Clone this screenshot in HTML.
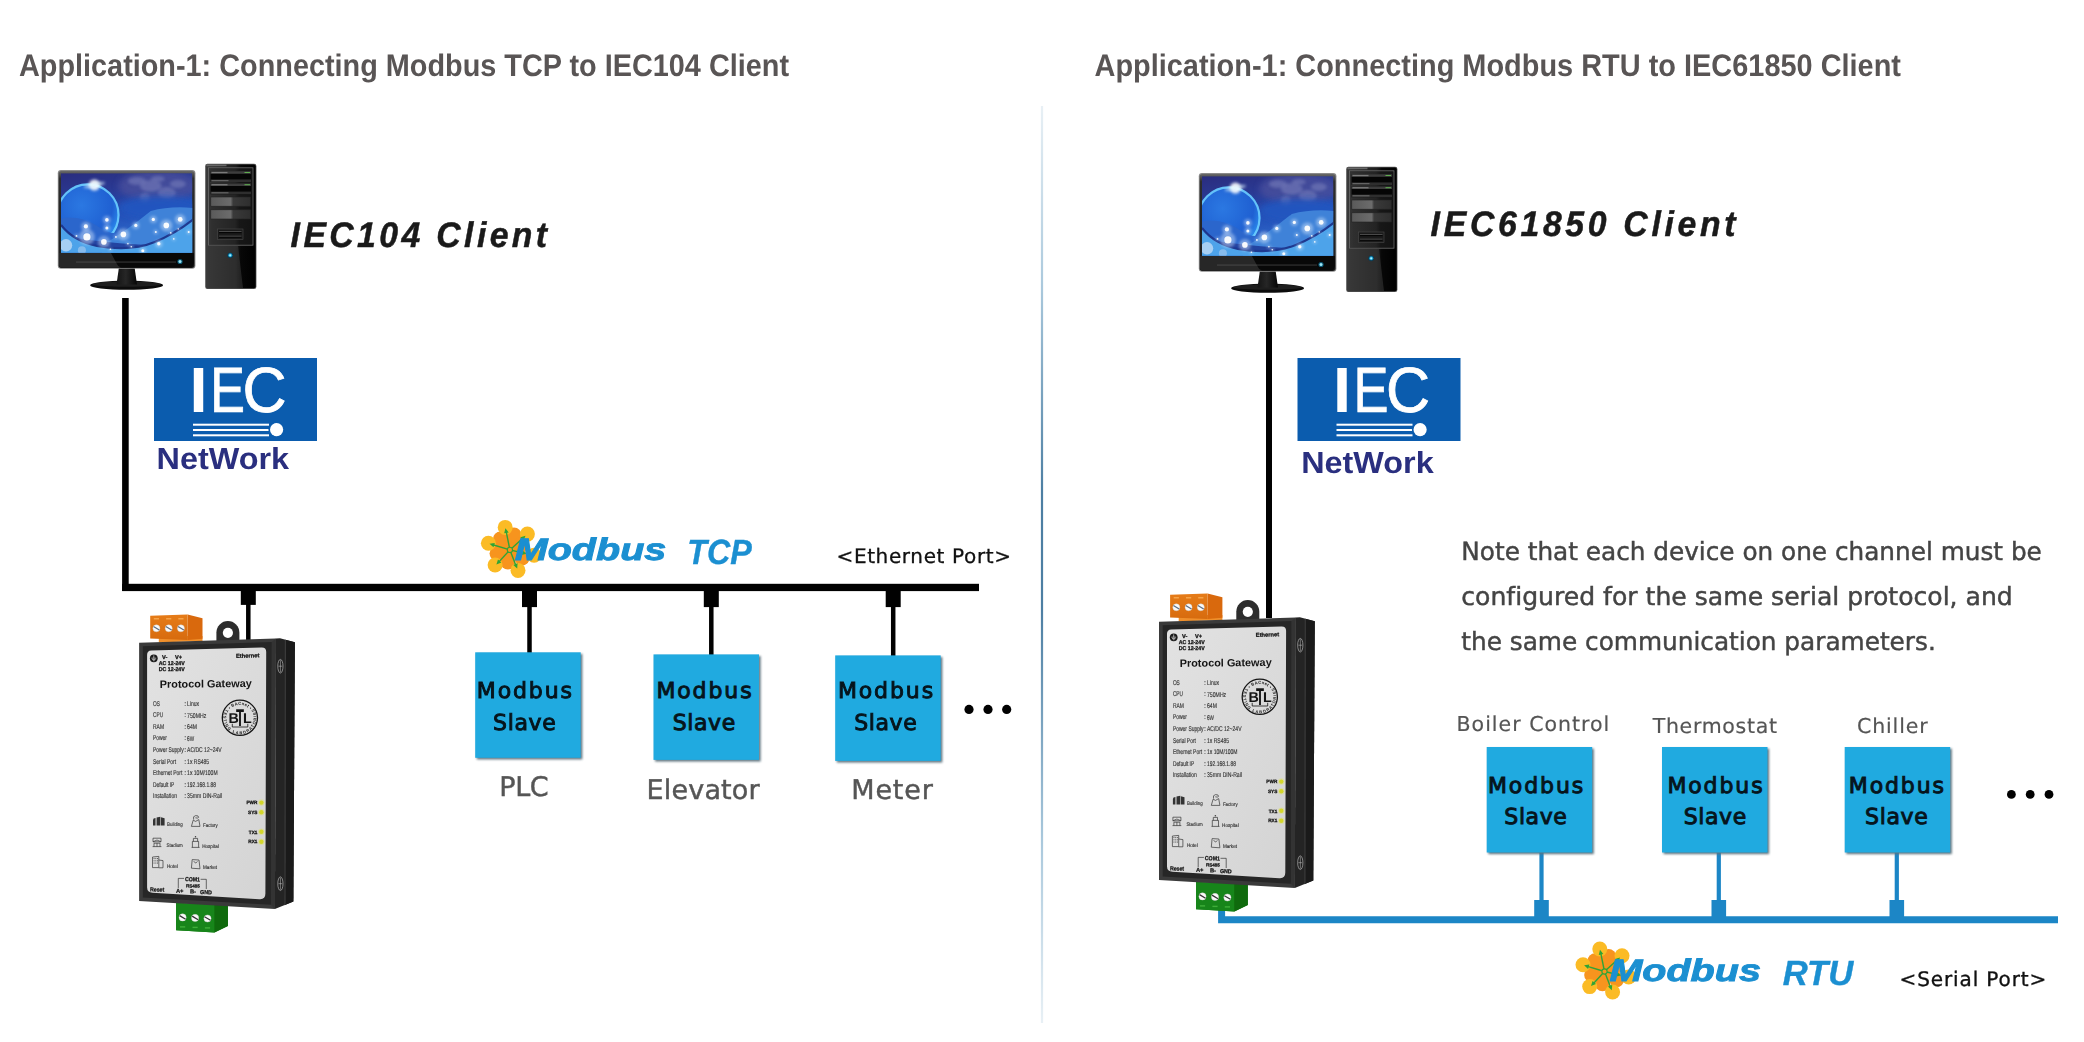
<!DOCTYPE html>
<html lang="en">
<head>
<meta charset="utf-8">
<title>Protocol Gateway Applications</title>
<style>
html,body{margin:0;padding:0;background:#fff;}
body{width:2084px;height:1042px;overflow:hidden;font-family:"Liberation Sans",sans-serif;}
svg{display:block;}
text{white-space:pre;font-variant-ligatures:none;font-kerning:normal;}
</style>
</head>
<body>
<svg width="2084" height="1042" viewBox="0 0 2084 1042" text-rendering="geometricPrecision"><defs>
<linearGradient id="divg" x1="0" y1="0" x2="0" y2="1">
<stop offset="0" stop-color="#e8f0f5"/><stop offset="0.2" stop-color="#a9c8dc"/><stop offset="0.42" stop-color="#4d7fa3"/><stop offset="0.55" stop-color="#4d7fa3"/><stop offset="0.8" stop-color="#a9c8dc"/><stop offset="1" stop-color="#e8f0f5"/>
</linearGradient>
<filter id="blur1" x="-10%" y="-10%" width="120%" height="120%"><feGaussianBlur stdDeviation="0.9"/></filter>
<filter id="blur2" x="-50%" y="-50%" width="200%" height="200%"><feGaussianBlur stdDeviation="1.6"/></filter>
<filter id="blur3" x="-50%" y="-50%" width="200%" height="200%"><feGaussianBlur stdDeviation="3"/></filter>
<filter id="blur05" x="-20%" y="-20%" width="140%" height="140%"><feGaussianBlur stdDeviation="0.45"/></filter>
<linearGradient id="scrg" x1="0" y1="0" x2="0.3" y2="1">
<stop offset="0" stop-color="#2a2d7e"/><stop offset="0.3" stop-color="#2a3a94"/><stop offset="0.6" stop-color="#2450b8"/><stop offset="1" stop-color="#2f70d0"/>
</linearGradient>
<radialGradient id="globe" cx="0.4" cy="0.35" r="0.7">
<stop offset="0" stop-color="#2b78e2"/><stop offset="0.7" stop-color="#1f60d2"/><stop offset="0.9" stop-color="#2a86ea"/><stop offset="1" stop-color="#58c4ff"/>
</radialGradient>
<linearGradient id="bezg" x1="0" y1="0" x2="0" y2="1">
<stop offset="0" stop-color="#6a6a6a"/><stop offset="0.08" stop-color="#2e2e2e"/><stop offset="1" stop-color="#1c1c1c"/>
</linearGradient>
<linearGradient id="towg" x1="0" y1="0" x2="1" y2="0">
<stop offset="0" stop-color="#3c3c3c"/><stop offset="0.08" stop-color="#333"/><stop offset="0.6" stop-color="#1e1e1e"/><stop offset="0.7" stop-color="#070707"/><stop offset="1" stop-color="#000"/>
</linearGradient>
<linearGradient id="bayg" x1="0" y1="0" x2="1" y2="0">
<stop offset="0" stop-color="#5a5a5a"/><stop offset="0.5" stop-color="#6c6c6c"/><stop offset="0.56" stop-color="#3a3a3a"/><stop offset="1" stop-color="#2e2e2e"/>
</linearGradient>
<linearGradient id="neckg" x1="0" y1="0" x2="1" y2="0">
<stop offset="0" stop-color="#141414"/><stop offset="0.45" stop-color="#262626"/><stop offset="1" stop-color="#060606"/>
</linearGradient>
<linearGradient id="orgf" x1="0" y1="0" x2="0" y2="1">
<stop offset="0" stop-color="#e67c18"/><stop offset="1" stop-color="#d76b0e"/>
</linearGradient>
<linearGradient id="lblg" x1="0" y1="0" x2="1" y2="1">
<stop offset="0" stop-color="#e2e2e2"/><stop offset="1" stop-color="#d4d4d4"/>
</linearGradient>
</defs><g opacity="0.999"><text x="19" y="75.6" font-family='"Liberation Sans", sans-serif' font-size="31.2" fill="#595555" font-weight="bold" textLength="770" lengthAdjust="spacingAndGlyphs">Application-1: Connecting Modbus TCP to IEC104 Client</text>
<text x="1094.5" y="75.6" font-family='"Liberation Sans", sans-serif' font-size="31.2" fill="#595555" font-weight="bold" textLength="806.5" lengthAdjust="spacingAndGlyphs">Application-1: Connecting Modbus RTU to IEC61850 Client</text>
<rect x="1040.9" y="106" width="2.2" height="917" fill="url(#divg)"/>
<rect x="122.1" y="298" width="6.6" height="293" fill="#000"/>
<rect x="122.1" y="583.8" width="856.9" height="7.3" fill="#000"/>
<rect x="240.8" y="590" width="15" height="14.9" fill="#000"/><rect x="246.05" y="590" width="4.5" height="50" fill="#000"/>
<rect x="522.0" y="590" width="15" height="17.1" fill="#000"/><rect x="527.25" y="590" width="4.5" height="64" fill="#000"/>
<rect x="703.8" y="590" width="15" height="17.1" fill="#000"/><rect x="709.05" y="590" width="4.5" height="66" fill="#000"/>
<rect x="885.7" y="590" width="15" height="17.1" fill="#000"/><rect x="890.95" y="590" width="4.5" height="67" fill="#000"/>
<g transform="translate(0 0)"><ellipse cx="126.6" cy="285.2" rx="36.5" ry="4.6" fill="#0c0c0c"/><ellipse cx="126.6" cy="284.2" rx="34" ry="2.6" fill="#2b2b2b" opacity="0.6"/><path d="M119 267 L134.5 267 L137 284.5 L116.5 284.5 Z" fill="url(#neckg)"/><rect x="57.8" y="170" width="137.6" height="98.8" rx="3.2" fill="#8a8a8a"/><rect x="58.7" y="170.9" width="135.8" height="97" rx="2.6" fill="url(#bezg)"/><clipPath id="scrc0"><rect x="61" y="173.2" width="131.3" height="79.6"/></clipPath><g clip-path="url(#scrc0)"><rect x="61" y="173.2" width="131.3" height="79.6" fill="url(#scrg)"/><ellipse cx="158" cy="186" rx="40" ry="16" fill="#4a4f9c" opacity="0.8" filter="url(#blur3)"/><ellipse cx="136.8" cy="181.0" rx="9" ry="4" fill="#8086c0" opacity="0.5" filter="url(#blur2)"/><ellipse cx="150.8" cy="186.0" rx="11" ry="6" fill="#8086c0" opacity="0.5" filter="url(#blur2)"/><ellipse cx="166.8" cy="193.0" rx="9" ry="6" fill="#8086c0" opacity="0.5" filter="url(#blur2)"/><ellipse cx="177.8" cy="184.0" rx="8" ry="4" fill="#8086c0" opacity="0.5" filter="url(#blur2)"/><ellipse cx="144.8" cy="197.9" rx="5" ry="5" fill="#8086c0" opacity="0.5" filter="url(#blur2)"/><ellipse cx="157.8" cy="179.0" rx="7" ry="3" fill="#8086c0" opacity="0.5" filter="url(#blur2)"/><ellipse cx="160" cy="208" rx="42" ry="12" fill="#2456c0" opacity="0.9" filter="url(#blur3)"/><circle cx="87.9" cy="214.9" r="31.5" fill="url(#globe)"/><circle cx="87.9" cy="214.9" r="30.6" fill="none" stroke="#6fd2ff" stroke-width="2.2" opacity="0.85" filter="url(#blur05)"/><circle cx="94.4" cy="185.0" r="5.5" fill="#fff" opacity="0.9" filter="url(#blur2)"/><ellipse cx="94.4" cy="185.0" rx="11" ry="2" fill="#dff6ff" opacity="0.7" filter="url(#blur2)" transform="rotate(-12 94.4 185.0)"/><path d="M61.0 218.4 Q80.0 214.9 98.9 226.9 T120.9 226.9 L120.9 253.8 L61.0 253.8 Z" fill="#2b66cc"/><path d="M101.9 245.3 Q124.9 231.9 150.8 210.9 Q169.8 205.9 192.7 207.9 L192.7 253.8 L101.9 253.8 Z" fill="#3f82d8"/><path d="M61.0 224.9 Q73.0 240.9 96.9 245.8 Q130.8 251.8 154.8 241.9 Q174.8 233.9 192.7 219.9 L192.7 253.8 L61.0 253.8 Z" fill="#4da3ea"/><path d="M61.0 224.9 Q73.0 240.9 96.9 245.8 Q130.8 251.8 154.8 241.9 Q174.8 233.9 192.7 219.9" fill="none" stroke="#1b2f86" stroke-width="2.2" opacity="0.9"/><path d="M75.0 237.9 Q87.9 245.3 106.9 246.8 Q124.9 249.0 144.8 244.8 Q118.9 243.8 75.0 237.9 Z" fill="#1f3a98" opacity="0.85"/><circle cx="106.9" cy="219.9" r="3.8" fill="#dcecff" opacity="0.45" filter="url(#blur2)"/><circle cx="106.9" cy="219.9" r="1.8" fill="#fff" opacity="0.95" filter="url(#blur05)"/><circle cx="85.9" cy="226.4" r="4.5" fill="#dcecff" opacity="0.45" filter="url(#blur2)"/><circle cx="85.9" cy="226.4" r="2.1" fill="#fff" opacity="0.95" filter="url(#blur05)"/><circle cx="86.9" cy="236.9" r="7.8" fill="#dcecff" opacity="0.45" filter="url(#blur2)"/><circle cx="86.9" cy="236.9" r="3.6" fill="#fff" opacity="0.95" filter="url(#blur05)"/><circle cx="103.9" cy="241.9" r="6.0" fill="#dcecff" opacity="0.45" filter="url(#blur2)"/><circle cx="103.9" cy="241.9" r="2.8" fill="#fff" opacity="0.95" filter="url(#blur05)"/><circle cx="123.4" cy="234.4" r="6.0" fill="#dcecff" opacity="0.45" filter="url(#blur2)"/><circle cx="123.4" cy="234.4" r="2.8" fill="#fff" opacity="0.95" filter="url(#blur05)"/><circle cx="135.8" cy="225.4" r="3.4" fill="#dcecff" opacity="0.45" filter="url(#blur2)"/><circle cx="135.8" cy="225.4" r="1.6" fill="#fff" opacity="0.95" filter="url(#blur05)"/><circle cx="153.3" cy="219.4" r="3.4" fill="#dcecff" opacity="0.45" filter="url(#blur2)"/><circle cx="153.3" cy="219.4" r="1.6" fill="#fff" opacity="0.95" filter="url(#blur05)"/><circle cx="166.3" cy="225.4" r="6.0" fill="#dcecff" opacity="0.45" filter="url(#blur2)"/><circle cx="166.3" cy="225.4" r="2.8" fill="#fff" opacity="0.95" filter="url(#blur05)"/><circle cx="180.2" cy="219.4" r="5.2" fill="#dcecff" opacity="0.45" filter="url(#blur2)"/><circle cx="180.2" cy="219.4" r="2.4" fill="#fff" opacity="0.95" filter="url(#blur05)"/><circle cx="155.8" cy="231.9" r="2.2" fill="#dcecff" opacity="0.45" filter="url(#blur2)"/><circle cx="155.8" cy="231.9" r="1.0" fill="#fff" opacity="0.95" filter="url(#blur05)"/><circle cx="170.8" cy="232.9" r="1.8" fill="#dcecff" opacity="0.45" filter="url(#blur2)"/><circle cx="170.8" cy="232.9" r="0.8" fill="#fff" opacity="0.95" filter="url(#blur05)"/><circle cx="178.3" cy="228.9" r="1.5" fill="#dcecff" opacity="0.45" filter="url(#blur2)"/><circle cx="178.3" cy="228.9" r="0.7" fill="#fff" opacity="0.95" filter="url(#blur05)"/><circle cx="188.7" cy="231.9" r="2.2" fill="#dcecff" opacity="0.45" filter="url(#blur2)"/><circle cx="188.7" cy="231.9" r="1.0" fill="#fff" opacity="0.95" filter="url(#blur05)"/><circle cx="173.8" cy="238.9" r="1.8" fill="#dcecff" opacity="0.45" filter="url(#blur2)"/><circle cx="173.8" cy="238.9" r="0.8" fill="#fff" opacity="0.95" filter="url(#blur05)"/><circle cx="158.8" cy="243.8" r="3.6" fill="#dcecff" opacity="0.45" filter="url(#blur2)"/><circle cx="158.8" cy="243.8" r="1.7" fill="#fff" opacity="0.95" filter="url(#blur05)"/><circle cx="127.9" cy="243.8" r="1.8" fill="#dcecff" opacity="0.45" filter="url(#blur2)"/><circle cx="127.9" cy="243.8" r="0.8" fill="#fff" opacity="0.95" filter="url(#blur05)"/><circle cx="131.3" cy="246.8" r="1.8" fill="#dcecff" opacity="0.45" filter="url(#blur2)"/><circle cx="131.3" cy="246.8" r="0.8" fill="#fff" opacity="0.95" filter="url(#blur05)"/><circle cx="110.4" cy="249.3" r="1.8" fill="#dcecff" opacity="0.45" filter="url(#blur2)"/><circle cx="110.4" cy="249.3" r="0.8" fill="#fff" opacity="0.95" filter="url(#blur05)"/><circle cx="76.5" cy="235.9" r="2.0" fill="#dcecff" opacity="0.45" filter="url(#blur2)"/><circle cx="76.5" cy="235.9" r="0.9" fill="#fff" opacity="0.95" filter="url(#blur05)"/><circle cx="115.9" cy="236.9" r="2.0" fill="#dcecff" opacity="0.45" filter="url(#blur2)"/><circle cx="115.9" cy="236.9" r="0.9" fill="#fff" opacity="0.95" filter="url(#blur05)"/><circle cx="106.9" cy="227.9" r="3.3" fill="#dcecff" opacity="0.45" filter="url(#blur2)"/><circle cx="106.9" cy="227.9" r="1.5" fill="#fff" opacity="0.95" filter="url(#blur05)"/><circle cx="142.8" cy="250.8" r="3.3" fill="#dcecff" opacity="0.45" filter="url(#blur2)"/><circle cx="142.8" cy="250.8" r="1.5" fill="#fff" opacity="0.95" filter="url(#blur05)"/><circle cx="66.0" cy="245.3" r="6.2" fill="#e4ecf8" opacity="0.6"/><circle cx="81.9" cy="250.3" r="4" fill="#cfdcf2" opacity="0.45"/></g><path d="M59 253 H111 L117 264 Q118 267 121 267.6 H61 Q59 267 59 265 Z" fill="#272727"/><path d="M111 253 H194 V262 Q194 267.6 190 267.6 H121 Q118 267 117 264 Z" fill="#080808"/><rect x="76" y="261.6" width="100" height="0.9" fill="#666" opacity="0.6"/><circle cx="180" cy="261.5" r="2.6" fill="#0b5a78"/><circle cx="180" cy="261.5" r="1.5" fill="#9fe6f5"/><rect x="205.2" y="163.8" width="51.2" height="125.2" rx="2.2" fill="#555"/><rect x="205.9" y="164.5" width="49.8" height="123.8" rx="1.8" fill="url(#towg)"/><rect x="206.5" y="164.6" width="20" height="1.6" fill="#777" opacity="0.8"/><rect x="208.4" y="167.8" width="44.6" height="77.4" fill="#2a2a2a" stroke="#6c6c6c" stroke-width="0.8"/><rect x="209" y="168.4" width="43.4" height="76.2" fill="url(#towg)" opacity="0.55"/><rect x="210.5" y="171.2" width="40.5" height="10.8" fill="#050505"/><rect x="210.5" y="171.2" width="40.5" height="2.6" fill="#3d3d3d"/><rect x="211.5" y="171.89999999999998" width="16" height="1.3" fill="#8a8a8a" opacity="0.8"/><rect x="244.5" y="172.0" width="5.5" height="1" fill="#5fae4f"/><rect x="210.5" y="179.39999999999998" width="40.5" height="2.6" fill="#2e2e2e"/><rect x="211.5" y="180.0" width="17" height="1.2" fill="#7a7a7a" opacity="0.7"/><rect x="210.5" y="183.4" width="40.5" height="10.8" fill="#050505"/><rect x="210.5" y="183.4" width="40.5" height="2.6" fill="#3d3d3d"/><rect x="211.5" y="184.1" width="16" height="1.3" fill="#8a8a8a" opacity="0.8"/><rect x="244.5" y="184.20000000000002" width="5.5" height="1" fill="#5fae4f"/><rect x="210.5" y="191.6" width="40.5" height="2.6" fill="#2e2e2e"/><rect x="211.5" y="192.20000000000002" width="17" height="1.2" fill="#7a7a7a" opacity="0.7"/><rect x="210.8" y="197" width="39.8" height="9.2" fill="url(#bayg)" stroke="#222" stroke-width="0.6"/><rect x="210.8" y="209.8" width="39.8" height="9.2" fill="url(#bayg)" stroke="#222" stroke-width="0.6"/><rect x="217.5" y="229" width="25.5" height="10.6" fill="#1a1a1a" stroke="#4a4a4a" stroke-width="0.6"/><rect x="219" y="231.4" width="22.5" height="1.7" fill="#050505"/><rect x="219" y="231.2" width="22.5" height="0.7" fill="#8a8a8a" opacity="0.7"/><rect x="219" y="236" width="22.5" height="1.7" fill="#050505"/><rect x="219" y="235.8" width="22.5" height="0.7" fill="#8a8a8a" opacity="0.7"/><path d="M206 245.6 H238 L243 288.3 H206 Z" fill="#3a3a3a" opacity="0.55"/><circle cx="230.2" cy="255.3" r="2.9" fill="#0c3b52"/><circle cx="230.2" cy="255.3" r="2" fill="#1aa0d0"/><circle cx="230.2" cy="255.3" r="1.1" fill="#aef0ff"/></g>
<text transform="translate(290.6 246.6) scale(0.95 1)" x="0" y="0" font-family='"Liberation Sans", sans-serif' font-size="35.5" fill="#1a1a1a" font-weight="bold" font-style="italic" textLength="270.0" lengthAdjust="spacing" stroke="#1a1a1a" stroke-width="0.5">IEC104 Client</text>
<g transform="translate(154 358)"><rect x="0" y="0" width="163" height="83" fill="#0b5cae"/><text y="53.9" font-family='"Liberation Sans", sans-serif' font-size="64" fill="#fff"><tspan x="35.4" font-weight="bold" textLength="18" lengthAdjust="spacingAndGlyphs">I</tspan><tspan x="56" textLength="35" lengthAdjust="spacingAndGlyphs" stroke="#fff" stroke-width="0.7">E</tspan><tspan x="88.5" textLength="44" lengthAdjust="spacingAndGlyphs" stroke="#fff" stroke-width="0.8">C</tspan></text><rect x="39" y="65.7" width="76" height="2" fill="#fff"/><rect x="39" y="71.0" width="76" height="2" fill="#fff"/><rect x="39" y="76.3" width="76" height="2" fill="#fff"/><circle cx="122.6" cy="71.7" r="8.2" fill="#0b5cae"/><circle cx="122.6" cy="71.7" r="6.6" fill="#fff"/></g>
<text x="156.6" y="469.2" font-family='"Liberation Sans", sans-serif' font-size="30.5" fill="#2a2f7f" font-weight="bold" textLength="132.5" lengthAdjust="spacingAndGlyphs">NetWork</text>
<g transform="translate(0 0)"><circle cx="509.9" cy="549.3" r="11" fill="#f7941e"/><circle cx="514.0" cy="535.1" r="7.6" fill="#f7941e"/><circle cx="500.5" cy="539.2" r="7.6" fill="#f7941e"/><circle cx="497.2" cy="553.3" r="7.6" fill="#f7941e"/><circle cx="507.9" cy="562.0" r="7.6" fill="#f7941e"/><circle cx="522.0" cy="558.0" r="7.6" fill="#f7941e"/><circle cx="521.3" cy="544.6" r="7.6" fill="#f7941e"/><circle cx="509.9" cy="549.3" r="7.6" fill="#f7941e"/><circle cx="505.2" cy="527.4" r="7.5" fill="#fbbb25"/><circle cx="527.4" cy="534.1" r="7.5" fill="#fbbb25"/><circle cx="488.4" cy="543.2" r="7.5" fill="#fbbb25"/><circle cx="495.1" cy="565.0" r="7.5" fill="#fbbb25"/><circle cx="518.0" cy="570.4" r="7.5" fill="#fbbb25"/><circle cx="534.1" cy="555.3" r="7.5" fill="#fbbb25"/><line x1="509.9" y1="549.9" x2="506.0" y2="530.7" stroke="#2fa437" stroke-width="1.4"/><polygon points="505.4,528.2 504.2,533.3 508.7,532.4" fill="#2fa437"/><line x1="509.9" y1="549.9" x2="523.6" y2="537.5" stroke="#2fa437" stroke-width="1.4"/><polygon points="525.5,535.8 520.4,537.3 523.5,540.7" fill="#2fa437"/><line x1="509.9" y1="549.9" x2="492.0" y2="544.5" stroke="#2fa437" stroke-width="1.4"/><polygon points="489.5,543.7 493.5,547.3 494.8,542.9" fill="#2fa437"/><line x1="509.9" y1="549.9" x2="498.2" y2="562.6" stroke="#2fa437" stroke-width="1.4"/><polygon points="496.4,564.5 501.4,562.5 498.0,559.4" fill="#2fa437"/><line x1="509.9" y1="549.9" x2="516.2" y2="566.2" stroke="#2fa437" stroke-width="1.4"/><polygon points="517.2,568.6 517.6,563.3 513.3,565.0" fill="#2fa437"/><line x1="509.9" y1="549.9" x2="524.1" y2="553.2" stroke="#2fa437" stroke-width="1.4"/><polygon points="526.6,553.8 522.5,550.4 521.4,554.9" fill="#2fa437"/><circle cx="509.9" cy="549.9" r="2.6" fill="#f7941e" stroke="#2fa437" stroke-width="1.1"/><text x="514.8" y="559.8" font-family='"Liberation Sans", sans-serif' font-size="31" font-weight="bold" font-style="italic" fill="#1b8fd1" stroke="#1b8fd1" stroke-width="0.9" textLength="151.5" lengthAdjust="spacingAndGlyphs">Modbus</text><text x="687.3" y="563.6" font-family='"Liberation Sans", sans-serif' font-size="35" font-weight="bold" font-style="italic" fill="#1b8fd1" stroke="#1b8fd1" stroke-width="0.4" textLength="64.5" lengthAdjust="spacingAndGlyphs">TCP</text></g>
<text x="836.5" y="563" font-family='"DejaVu Sans", "Liberation Sans", sans-serif' font-size="20" fill="#111" textLength="174.5" lengthAdjust="spacing" stroke="#111" stroke-width="0.3">&lt;Ethernet Port&gt;</text>
<rect x="476.8" y="653.9" width="105.5" height="105.5" fill="#5f7480" filter="url(#blur1)"/><rect x="475.2" y="652.3" width="105.5" height="105.5" fill="#20aae0"/><text x="476.8" y="698.4" font-family='"DejaVu Sans", "Liberation Sans", sans-serif' font-size="22" fill="#06141c" textLength="95.2" lengthAdjust="spacing" stroke="#06141c" stroke-width="0.95">Modbus</text><text x="493.1" y="729.8" font-family='"DejaVu Sans", "Liberation Sans", sans-serif' font-size="22" fill="#06141c" textLength="62.6" lengthAdjust="spacing" stroke="#06141c" stroke-width="0.95">Slave</text>
<rect x="655.1" y="656.0" width="105.5" height="105.5" fill="#5f7480" filter="url(#blur1)"/><rect x="653.5" y="654.4" width="105.5" height="105.5" fill="#20aae0"/><text x="656.4" y="698.4" font-family='"DejaVu Sans", "Liberation Sans", sans-serif' font-size="22" fill="#06141c" textLength="95.2" lengthAdjust="spacing" stroke="#06141c" stroke-width="0.95">Modbus</text><text x="672.7" y="729.8" font-family='"DejaVu Sans", "Liberation Sans", sans-serif' font-size="22" fill="#06141c" textLength="62.6" lengthAdjust="spacing" stroke="#06141c" stroke-width="0.95">Slave</text>
<rect x="836.8000000000001" y="657.0" width="105.5" height="105.5" fill="#5f7480" filter="url(#blur1)"/><rect x="835.2" y="655.4" width="105.5" height="105.5" fill="#20aae0"/><text x="837.9" y="698.4" font-family='"DejaVu Sans", "Liberation Sans", sans-serif' font-size="22" fill="#06141c" textLength="95.2" lengthAdjust="spacing" stroke="#06141c" stroke-width="0.95">Modbus</text><text x="854.2" y="729.8" font-family='"DejaVu Sans", "Liberation Sans", sans-serif' font-size="22" fill="#06141c" textLength="62.6" lengthAdjust="spacing" stroke="#06141c" stroke-width="0.95">Slave</text>
<text x="499.2" y="796.3" font-family='"DejaVu Sans", "Liberation Sans", sans-serif' font-size="27" fill="#555555" textLength="49.5" lengthAdjust="spacing" stroke="#555555" stroke-width="0.45">PLC</text>
<text x="646.6" y="798.5" font-family='"DejaVu Sans", "Liberation Sans", sans-serif' font-size="27" fill="#555555" textLength="113" lengthAdjust="spacing" stroke="#555555" stroke-width="0.45">Elevator</text>
<text x="851.3" y="798.5" font-family='"DejaVu Sans", "Liberation Sans", sans-serif' font-size="27" fill="#555555" textLength="81.5" lengthAdjust="spacing" stroke="#555555" stroke-width="0.45">Meter</text>
<circle cx="969" cy="709.4" r="4.6" fill="#000"/>
<circle cx="988" cy="709.4" r="4.6" fill="#000"/>
<circle cx="1006.7" cy="709.4" r="4.6" fill="#000"/>
<g transform="translate(0.0 0.0)"><path d="M158.8 636 L202.5 636 L202.5 641 L158.8 642.5 Z" fill="#f0902c"/><path d="M187.6 614.6 L202.5 618.2 L202.5 638.8 L187.6 640 Z" fill="#d9690d"/><path d="M150.2 615.8 L187.6 614.6 L187.6 640 L150.2 638.6 Z" fill="url(#orgf)"/><rect x="153.8" y="618.0" width="5.2" height="1.5" fill="#f6a348"/><circle cx="156.4" cy="628.3" r="3.5" fill="#fafafa" stroke="#c9c9c9" stroke-width="0.4"/><line x1="153.5" y1="626.5" x2="159.3" y2="630.0" stroke="#5b6d84" stroke-width="1.3"/><rect x="166.1" y="618.0" width="5.2" height="1.5" fill="#f6a348"/><circle cx="168.7" cy="628.3" r="3.5" fill="#fafafa" stroke="#c9c9c9" stroke-width="0.4"/><line x1="165.8" y1="626.5" x2="171.6" y2="630.0" stroke="#5b6d84" stroke-width="1.3"/><rect x="178.3" y="618.0" width="5.2" height="1.5" fill="#f6a348"/><circle cx="180.9" cy="628.3" r="3.5" fill="#fafafa" stroke="#c9c9c9" stroke-width="0.4"/><line x1="178.0" y1="626.5" x2="183.8" y2="630.0" stroke="#5b6d84" stroke-width="1.3"/><path d="M216.4 642 L216.4 632.6 A11.5 11.5 0 0 1 239.4 632.6 L239.4 642 Z" fill="#2d2d2d"/><circle cx="227.9" cy="632.8" r="5.1" fill="#fff"/><path d="M176.1 903 L227.9 905 L227.9 925.9 L214.5 932.6 L176.1 930.2 Z" fill="#12760f"/><path d="M176.1 903 L214.5 904 L214.5 932.6 L176.1 930.2 Z" fill="#17851a"/><path d="M214.5 904 L227.9 905 L227.9 925.9 L214.5 932.6 Z" fill="#0f6a0d"/><circle cx="182.6" cy="917.4" r="3.6" fill="#fafafa" stroke="#c9c9c9" stroke-width="0.4"/><line x1="179.6" y1="915.6" x2="185.6" y2="919.2" stroke="#333" stroke-width="1.3"/><rect x="180.0" y="926.2" width="5.2" height="1.4" fill="#3fae3a"/><circle cx="195.1" cy="917.9499999999999" r="3.6" fill="#fafafa" stroke="#c9c9c9" stroke-width="0.4"/><line x1="192.1" y1="916.1" x2="198.1" y2="919.7" stroke="#333" stroke-width="1.3"/><rect x="192.5" y="926.7" width="5.2" height="1.4" fill="#3fae3a"/><circle cx="207.5" cy="918.5" r="3.6" fill="#fafafa" stroke="#c9c9c9" stroke-width="0.4"/><line x1="204.5" y1="916.7" x2="210.5" y2="920.3" stroke="#333" stroke-width="1.3"/><rect x="204.9" y="927.2" width="5.2" height="1.4" fill="#3fae3a"/><path d="M275.9 638.4 L280 638.3 L294.9 642.2 L293.4 901.4 L274.9 909.1 Z" fill="#242424"/><path d="M285.5 639.8 L294.9 642.2 L293.4 901.4 L285 905 Z" fill="#1a1a1a"/><path d="M284.8 639.8 L286 640 L285.6 904.8 L284.4 905.2 Z" fill="#3a3a3a"/><path d="M139.1 642.7 L275.9 638.4 L274.9 909.1 L139.1 900.9 Z" fill="#3a3a3a"/><path d="M142.8 646.2 L271.8 642 L271 904.8 L142.8 897.4 Z" fill="#262626"/><path d="M271.8 642 L275.9 638.4 L274.9 909.1 L271 904.8 Z" fill="#333"/><path d="M151.3 650.6 L261.6 647.4 Q266.2 647.3 266.2 651.8 L265.4 893.5 Q265.4 899.6 259.5 899.2 L152.6 892.8 Q147.1 892.4 147.1 887.6 L147.1 654.8 Q147.1 650.8 151.3 650.6 Z" fill="url(#lblg)"/><ellipse cx="280.4" cy="666.2" rx="2.6" ry="6.8" fill="#1a1a1a" stroke="#b8b8b8" stroke-width="0.7"/><line x1="280.4" y1="660.2" x2="280.4" y2="672.2" stroke="#b8b8b8" stroke-width="0.6"/><line x1="278.4" y1="666.2" x2="282.4" y2="666.2" stroke="#b8b8b8" stroke-width="0.6"/><ellipse cx="280.4" cy="883.7" rx="2.6" ry="6.8" fill="#1a1a1a" stroke="#b8b8b8" stroke-width="0.7"/><line x1="280.4" y1="877.7" x2="280.4" y2="889.7" stroke="#b8b8b8" stroke-width="0.6"/><line x1="278.4" y1="883.7" x2="282.4" y2="883.7" stroke="#b8b8b8" stroke-width="0.6"/><circle cx="153.8" cy="658.3" r="3.9" fill="#1a1a1a"/><path d="M153.8 655.4 V658.2 M151.4 658.2 H156.2 M152.1 659.5 H155.5 M152.9 660.7 H154.7" stroke="#ddd" stroke-width="0.7" fill="none"/><text x="162.1" y="658.7" font-family='"Liberation Sans", sans-serif' font-size="5.6" fill="#151515" font-weight="bold" stroke="#151515" stroke-width="0.28">V-</text><text x="175.1" y="658.7" font-family='"Liberation Sans", sans-serif' font-size="5.6" fill="#151515" font-weight="bold" stroke="#151515" stroke-width="0.28">V+</text><text x="158.8" y="665.0" font-family='"Liberation Sans", sans-serif' font-size="5.6" fill="#151515" font-weight="bold" textLength="26" lengthAdjust="spacingAndGlyphs" stroke="#151515" stroke-width="0.28">AC 12-24V</text><text x="158.8" y="671.2" font-family='"Liberation Sans", sans-serif' font-size="5.6" fill="#151515" font-weight="bold" textLength="26" lengthAdjust="spacingAndGlyphs" stroke="#151515" stroke-width="0.28">DC 12-24V</text><text x="235.9" y="657.8" font-family='"Liberation Sans", sans-serif' font-size="5.6" fill="#151515" font-weight="bold" textLength="23.5" lengthAdjust="spacingAndGlyphs" transform="rotate(-1.5 235.9 657.8)" stroke="#151515" stroke-width="0.28">Ethernet</text><text x="159.8" y="687.9" font-family='"Liberation Sans", sans-serif' font-size="10.8" fill="#151515" font-weight="bold" textLength="92" lengthAdjust="spacingAndGlyphs" transform="rotate(-0.6 159.8 687.9)">Protocol Gateway</text><text x="153" y="705.8" font-family='"Liberation Sans", sans-serif' font-size="6.9" fill="#333333" textLength="6.9" lengthAdjust="spacingAndGlyphs" stroke="#333333" stroke-width="0.14">OS</text><text x="184.2" y="705.8" font-family='"Liberation Sans", sans-serif' font-size="6.9" fill="#333333" stroke="#333333" stroke-width="0.14">:</text><text x="187.1" y="706.0" font-family='"Liberation Sans", sans-serif' font-size="6.9" fill="#333333" textLength="12" lengthAdjust="spacingAndGlyphs" stroke="#333333" stroke-width="0.14">Linux</text><text x="153" y="717.3" font-family='"Liberation Sans", sans-serif' font-size="6.9" fill="#333333" textLength="10.1" lengthAdjust="spacingAndGlyphs" stroke="#333333" stroke-width="0.14">CPU</text><text x="184.2" y="717.3" font-family='"Liberation Sans", sans-serif' font-size="6.9" fill="#333333" stroke="#333333" stroke-width="0.14">:</text><text x="187.1" y="717.5" font-family='"Liberation Sans", sans-serif' font-size="6.9" fill="#333333" textLength="19.2" lengthAdjust="spacingAndGlyphs" stroke="#333333" stroke-width="0.14">750MHz</text><text x="153" y="728.9" font-family='"Liberation Sans", sans-serif' font-size="6.9" fill="#333333" textLength="11" lengthAdjust="spacingAndGlyphs" stroke="#333333" stroke-width="0.14">RAM</text><text x="184.2" y="728.9" font-family='"Liberation Sans", sans-serif' font-size="6.9" fill="#333333" stroke="#333333" stroke-width="0.14">:</text><text x="187.1" y="729.1" font-family='"Liberation Sans", sans-serif' font-size="6.9" fill="#333333" textLength="9.9" lengthAdjust="spacingAndGlyphs" stroke="#333333" stroke-width="0.14">64M</text><text x="153" y="740.4" font-family='"Liberation Sans", sans-serif' font-size="6.9" fill="#333333" textLength="13.9" lengthAdjust="spacingAndGlyphs" stroke="#333333" stroke-width="0.14">Power</text><text x="184.2" y="740.4" font-family='"Liberation Sans", sans-serif' font-size="6.9" fill="#333333" stroke="#333333" stroke-width="0.14">:</text><text x="187.1" y="740.6" font-family='"Liberation Sans", sans-serif' font-size="6.9" fill="#333333" textLength="7" lengthAdjust="spacingAndGlyphs" stroke="#333333" stroke-width="0.14">6W</text><text x="153" y="752.0" font-family='"Liberation Sans", sans-serif' font-size="6.9" fill="#333333" textLength="30.7" lengthAdjust="spacingAndGlyphs" stroke="#333333" stroke-width="0.14">Power Supply</text><text x="184.2" y="752.0" font-family='"Liberation Sans", sans-serif' font-size="6.9" fill="#333333" stroke="#333333" stroke-width="0.14">:</text><text x="187.1" y="752.2" font-family='"Liberation Sans", sans-serif' font-size="6.9" fill="#333333" textLength="34.5" lengthAdjust="spacingAndGlyphs" stroke="#333333" stroke-width="0.14">AC/DC 12~24V</text><text x="153" y="763.5" font-family='"Liberation Sans", sans-serif' font-size="6.9" fill="#333333" textLength="23" lengthAdjust="spacingAndGlyphs" stroke="#333333" stroke-width="0.14">Serial Port</text><text x="184.2" y="763.5" font-family='"Liberation Sans", sans-serif' font-size="6.9" fill="#333333" stroke="#333333" stroke-width="0.14">:</text><text x="187.1" y="763.7" font-family='"Liberation Sans", sans-serif' font-size="6.9" fill="#333333" textLength="22" lengthAdjust="spacingAndGlyphs" stroke="#333333" stroke-width="0.14">1x RS485</text><text x="153" y="775.1" font-family='"Liberation Sans", sans-serif' font-size="6.9" fill="#333333" textLength="29.3" lengthAdjust="spacingAndGlyphs" stroke="#333333" stroke-width="0.14">Ethernet Port</text><text x="184.2" y="775.1" font-family='"Liberation Sans", sans-serif' font-size="6.9" fill="#333333" stroke="#333333" stroke-width="0.14">:</text><text x="187.1" y="775.3" font-family='"Liberation Sans", sans-serif' font-size="6.9" fill="#333333" textLength="30.5" lengthAdjust="spacingAndGlyphs" stroke="#333333" stroke-width="0.14">1x 10M/100M</text><text x="153" y="786.6" font-family='"Liberation Sans", sans-serif' font-size="6.9" fill="#333333" textLength="21.3" lengthAdjust="spacingAndGlyphs" stroke="#333333" stroke-width="0.14">Default IP</text><text x="184.2" y="786.6" font-family='"Liberation Sans", sans-serif' font-size="6.9" fill="#333333" stroke="#333333" stroke-width="0.14">:</text><text x="187.1" y="786.8" font-family='"Liberation Sans", sans-serif' font-size="6.9" fill="#333333" textLength="29" lengthAdjust="spacingAndGlyphs" stroke="#333333" stroke-width="0.14">192.168.1.88</text><text x="153" y="798.2" font-family='"Liberation Sans", sans-serif' font-size="6.9" fill="#333333" textLength="24" lengthAdjust="spacingAndGlyphs" stroke="#333333" stroke-width="0.14">Installation</text><text x="184.2" y="798.2" font-family='"Liberation Sans", sans-serif' font-size="6.9" fill="#333333" stroke="#333333" stroke-width="0.14">:</text><text x="187.1" y="798.4" font-family='"Liberation Sans", sans-serif' font-size="6.9" fill="#333333" textLength="35" lengthAdjust="spacingAndGlyphs" stroke="#333333" stroke-width="0.14">35mm DIN-Rail</text><circle cx="239.9" cy="717.8" r="17.6" fill="none" stroke="#151515" stroke-width="1.3"/><path id="btlt139" d="M229.94 709.44 A13.0 13.0 0 0 1 249.86 709.44" fill="none"/><path id="btlb139" d="M225.91 709.06 A16.5 16.5 0 1 0 253.89 709.06" fill="none"/><text font-family='"Liberation Sans", sans-serif' font-size="4.2" font-weight="bold" fill="#151515"><textPath href="#btlt139" startOffset="0" textLength="22.7" lengthAdjust="spacing">&#8226; BACnet &#8226;</textPath></text><text font-family='"Liberation Sans", sans-serif' font-size="4.0" font-weight="bold" fill="#151515"><textPath href="#btlb139" startOffset="0" textLength="70.3" lengthAdjust="spacing">TESTING LABORATORIES</textPath></text><text y="723.3" font-family='"Liberation Sans", sans-serif' font-size="14.3" font-weight="bold" fill="#151515"><tspan x="228.6">B</tspan><tspan x="236.1" y="726.4" font-size="24.4" textLength="8" lengthAdjust="spacingAndGlyphs">T</tspan><tspan x="243.0" y="723.3">L</tspan></text><path d="M232.3 723.8 V727.0 H247.8 V723.8" fill="none" stroke="#151515" stroke-width="0.8"/><text x="257.4" y="804.1" font-family='"Liberation Sans", sans-serif' font-size="4.7" fill="#151515" font-weight="bold" text-anchor="end" stroke="#151515" stroke-width="0.28">PWR</text><circle cx="261.4" cy="802.6" r="3.3" fill="#e2e46a" opacity="0.4"/><circle cx="261.4" cy="802.6" r="2.2" fill="#d3d62c"/><text x="257.4" y="813.9" font-family='"Liberation Sans", sans-serif' font-size="4.7" fill="#151515" font-weight="bold" text-anchor="end" stroke="#151515" stroke-width="0.28">SYS</text><circle cx="261.4" cy="812.3" r="3.3" fill="#e2e46a" opacity="0.4"/><circle cx="261.4" cy="812.3" r="2.2" fill="#d3d62c"/><text x="257.4" y="833.5" font-family='"Liberation Sans", sans-serif' font-size="4.7" fill="#151515" font-weight="bold" text-anchor="end" stroke="#151515" stroke-width="0.28">TX1</text><circle cx="261.4" cy="831.8" r="3.3" fill="#e2e46a" opacity="0.4"/><circle cx="261.4" cy="831.8" r="2.2" fill="#d3d62c"/><text x="257.4" y="843.1" font-family='"Liberation Sans", sans-serif' font-size="4.7" fill="#151515" font-weight="bold" text-anchor="end" stroke="#151515" stroke-width="0.28">RX1</text><circle cx="261.4" cy="841.8" r="3.3" fill="#e2e46a" opacity="0.4"/><circle cx="261.4" cy="841.8" r="2.2" fill="#d3d62c"/><path d="M153 825.6 V820 Q153 818 155.5 818 V825.6 Z M156.6 825.6 V817.6 L160.4 816.8 V825.6 Z M161 825.6 V817.2 L164.6 818.2 V825.6 Z" fill="#333333"/><text x="167" y="825.7" font-family='"Liberation Sans", sans-serif' font-size="5.2" fill="#333333" textLength="15.8" lengthAdjust="spacingAndGlyphs" stroke="#333333" stroke-width="0.14">Building</text><path d="M191.4 826.4 H200 L198.8 819.6 L195.6 821.4 L193.2 820.2 Z M193.6 819.6 Q192.6 816 195.6 815.6 Q198.8 815.4 198.6 817.4 Q197.8 818.6 195.4 817.8" fill="none" stroke="#333333" stroke-width="0.7"/><text x="203" y="827.4" font-family='"Liberation Sans", sans-serif' font-size="5.2" fill="#333333" textLength="14.8" lengthAdjust="spacingAndGlyphs" stroke="#333333" stroke-width="0.14">Factory</text><path d="M153 838.2 H161 V841.8 H153 Z M153 841.8 L157 840 L161 841.8 M154 846.6 V843.2 H160 V846.6 M152.6 846.6 H161.4 M157 843.2 V846.6" fill="none" stroke="#333333" stroke-width="0.7"/><text x="166.5" y="846.8" font-family='"Liberation Sans", sans-serif' font-size="5.2" fill="#333333" textLength="16.3" lengthAdjust="spacingAndGlyphs" stroke="#333333" stroke-width="0.14">Stadium</text><path d="M191.6 847.4 H199.6 M192.4 847.4 V841.4 H198.6 V847.4 M193.4 841.4 V838.4 H197.6 V841.4 M195.5 836 V837.4 M194.8 836.7 H196.2" fill="none" stroke="#333333" stroke-width="0.7"/><text x="202.2" y="848.0" font-family='"Liberation Sans", sans-serif' font-size="5.2" fill="#333333" textLength="16.6" lengthAdjust="spacingAndGlyphs" stroke="#333333" stroke-width="0.14">Hospital</text><path d="M152.5 867.6 V857 L158.8 856.4 V867.6 Z M158.8 860 L163 860.6 V867.8 H158.8" fill="none" stroke="#333333" stroke-width="0.7"/><rect x="153.6" y="858.2" width="0.9" height="0.9" fill="#333333"/><rect x="155.4" y="858.2" width="0.9" height="0.9" fill="#333333"/><rect x="157.0" y="858.2" width="0.9" height="0.9" fill="#333333"/><rect x="153.6" y="860.4" width="0.9" height="0.9" fill="#333333"/><rect x="155.4" y="860.4" width="0.9" height="0.9" fill="#333333"/><rect x="157.0" y="860.4" width="0.9" height="0.9" fill="#333333"/><rect x="153.6" y="862.6" width="0.9" height="0.9" fill="#333333"/><rect x="155.4" y="862.6" width="0.9" height="0.9" fill="#333333"/><rect x="157.0" y="862.6" width="0.9" height="0.9" fill="#333333"/><text x="167" y="868.0" font-family='"Liberation Sans", sans-serif' font-size="5.2" fill="#333333" textLength="10.8" lengthAdjust="spacingAndGlyphs" stroke="#333333" stroke-width="0.14">Hotel</text><path d="M191.4 868.2 L192.2 859.6 L199 860 L200 868.8 Z M193.8 861.2 Q195.6 864.4 197.4 861.4" fill="none" stroke="#333333" stroke-width="0.7"/><text x="203" y="868.8" font-family='"Liberation Sans", sans-serif' font-size="5.2" fill="#333333" textLength="14.1" lengthAdjust="spacingAndGlyphs" stroke="#333333" stroke-width="0.14">Market</text><text x="150" y="891.3" font-family='"Liberation Sans", sans-serif' font-size="5.7" fill="#151515" font-weight="bold" textLength="14.2" lengthAdjust="spacingAndGlyphs" transform="rotate(1.5 150 891.3)" stroke="#151515" stroke-width="0.28">Reset</text><text x="184.9" y="881.1" font-family='"Liberation Sans", sans-serif' font-size="5.8" fill="#151515" font-weight="bold" textLength="15.1" lengthAdjust="spacingAndGlyphs" transform="rotate(1.5 184.9 881.1)" stroke="#151515" stroke-width="0.28">COM1</text><text x="186.1" y="887.3" font-family='"Liberation Sans", sans-serif' font-size="4.5" fill="#151515" font-weight="bold" textLength="13.8" lengthAdjust="spacingAndGlyphs" transform="rotate(1.5 186.1 887.3)" stroke="#151515" stroke-width="0.28">RS485</text><text x="176" y="892.7" font-family='"Liberation Sans", sans-serif' font-size="5.7" fill="#151515" font-weight="bold" transform="rotate(1.5 176 892.7)" stroke="#151515" stroke-width="0.28">A+</text><text x="190" y="893.3" font-family='"Liberation Sans", sans-serif' font-size="5.7" fill="#151515" font-weight="bold" transform="rotate(1.5 190 893.3)" stroke="#151515" stroke-width="0.28">B-</text><text x="200" y="894.0" font-family='"Liberation Sans", sans-serif' font-size="5.7" fill="#151515" font-weight="bold" textLength="11.8" lengthAdjust="spacingAndGlyphs" transform="rotate(1.5 200 894.0)" stroke="#151515" stroke-width="0.28">GND</text><path d="M184 878.4 H178.3 V888 M200.6 879.3 H206.3 V889" fill="none" stroke="#151515" stroke-width="0.6"/></g>
<rect x="1266" y="298" width="6" height="320" fill="#000"/>
<g transform="translate(1141.0 3)"><ellipse cx="126.6" cy="285.2" rx="36.5" ry="4.6" fill="#0c0c0c"/><ellipse cx="126.6" cy="284.2" rx="34" ry="2.6" fill="#2b2b2b" opacity="0.6"/><path d="M119 267 L134.5 267 L137 284.5 L116.5 284.5 Z" fill="url(#neckg)"/><rect x="57.8" y="170" width="137.6" height="98.8" rx="3.2" fill="#8a8a8a"/><rect x="58.7" y="170.9" width="135.8" height="97" rx="2.6" fill="url(#bezg)"/><clipPath id="scrc1141"><rect x="61" y="173.2" width="131.3" height="79.6"/></clipPath><g clip-path="url(#scrc1141)"><rect x="61" y="173.2" width="131.3" height="79.6" fill="url(#scrg)"/><ellipse cx="158" cy="186" rx="40" ry="16" fill="#4a4f9c" opacity="0.8" filter="url(#blur3)"/><ellipse cx="136.8" cy="181.0" rx="9" ry="4" fill="#8086c0" opacity="0.5" filter="url(#blur2)"/><ellipse cx="150.8" cy="186.0" rx="11" ry="6" fill="#8086c0" opacity="0.5" filter="url(#blur2)"/><ellipse cx="166.8" cy="193.0" rx="9" ry="6" fill="#8086c0" opacity="0.5" filter="url(#blur2)"/><ellipse cx="177.8" cy="184.0" rx="8" ry="4" fill="#8086c0" opacity="0.5" filter="url(#blur2)"/><ellipse cx="144.8" cy="197.9" rx="5" ry="5" fill="#8086c0" opacity="0.5" filter="url(#blur2)"/><ellipse cx="157.8" cy="179.0" rx="7" ry="3" fill="#8086c0" opacity="0.5" filter="url(#blur2)"/><ellipse cx="160" cy="208" rx="42" ry="12" fill="#2456c0" opacity="0.9" filter="url(#blur3)"/><circle cx="87.9" cy="214.9" r="31.5" fill="url(#globe)"/><circle cx="87.9" cy="214.9" r="30.6" fill="none" stroke="#6fd2ff" stroke-width="2.2" opacity="0.85" filter="url(#blur05)"/><circle cx="94.4" cy="185.0" r="5.5" fill="#fff" opacity="0.9" filter="url(#blur2)"/><ellipse cx="94.4" cy="185.0" rx="11" ry="2" fill="#dff6ff" opacity="0.7" filter="url(#blur2)" transform="rotate(-12 94.4 185.0)"/><path d="M61.0 218.4 Q80.0 214.9 98.9 226.9 T120.9 226.9 L120.9 253.8 L61.0 253.8 Z" fill="#2b66cc"/><path d="M101.9 245.3 Q124.9 231.9 150.8 210.9 Q169.8 205.9 192.7 207.9 L192.7 253.8 L101.9 253.8 Z" fill="#3f82d8"/><path d="M61.0 224.9 Q73.0 240.9 96.9 245.8 Q130.8 251.8 154.8 241.9 Q174.8 233.9 192.7 219.9 L192.7 253.8 L61.0 253.8 Z" fill="#4da3ea"/><path d="M61.0 224.9 Q73.0 240.9 96.9 245.8 Q130.8 251.8 154.8 241.9 Q174.8 233.9 192.7 219.9" fill="none" stroke="#1b2f86" stroke-width="2.2" opacity="0.9"/><path d="M75.0 237.9 Q87.9 245.3 106.9 246.8 Q124.9 249.0 144.8 244.8 Q118.9 243.8 75.0 237.9 Z" fill="#1f3a98" opacity="0.85"/><circle cx="106.9" cy="219.9" r="3.8" fill="#dcecff" opacity="0.45" filter="url(#blur2)"/><circle cx="106.9" cy="219.9" r="1.8" fill="#fff" opacity="0.95" filter="url(#blur05)"/><circle cx="85.9" cy="226.4" r="4.5" fill="#dcecff" opacity="0.45" filter="url(#blur2)"/><circle cx="85.9" cy="226.4" r="2.1" fill="#fff" opacity="0.95" filter="url(#blur05)"/><circle cx="86.9" cy="236.9" r="7.8" fill="#dcecff" opacity="0.45" filter="url(#blur2)"/><circle cx="86.9" cy="236.9" r="3.6" fill="#fff" opacity="0.95" filter="url(#blur05)"/><circle cx="103.9" cy="241.9" r="6.0" fill="#dcecff" opacity="0.45" filter="url(#blur2)"/><circle cx="103.9" cy="241.9" r="2.8" fill="#fff" opacity="0.95" filter="url(#blur05)"/><circle cx="123.4" cy="234.4" r="6.0" fill="#dcecff" opacity="0.45" filter="url(#blur2)"/><circle cx="123.4" cy="234.4" r="2.8" fill="#fff" opacity="0.95" filter="url(#blur05)"/><circle cx="135.8" cy="225.4" r="3.4" fill="#dcecff" opacity="0.45" filter="url(#blur2)"/><circle cx="135.8" cy="225.4" r="1.6" fill="#fff" opacity="0.95" filter="url(#blur05)"/><circle cx="153.3" cy="219.4" r="3.4" fill="#dcecff" opacity="0.45" filter="url(#blur2)"/><circle cx="153.3" cy="219.4" r="1.6" fill="#fff" opacity="0.95" filter="url(#blur05)"/><circle cx="166.3" cy="225.4" r="6.0" fill="#dcecff" opacity="0.45" filter="url(#blur2)"/><circle cx="166.3" cy="225.4" r="2.8" fill="#fff" opacity="0.95" filter="url(#blur05)"/><circle cx="180.2" cy="219.4" r="5.2" fill="#dcecff" opacity="0.45" filter="url(#blur2)"/><circle cx="180.2" cy="219.4" r="2.4" fill="#fff" opacity="0.95" filter="url(#blur05)"/><circle cx="155.8" cy="231.9" r="2.2" fill="#dcecff" opacity="0.45" filter="url(#blur2)"/><circle cx="155.8" cy="231.9" r="1.0" fill="#fff" opacity="0.95" filter="url(#blur05)"/><circle cx="170.8" cy="232.9" r="1.8" fill="#dcecff" opacity="0.45" filter="url(#blur2)"/><circle cx="170.8" cy="232.9" r="0.8" fill="#fff" opacity="0.95" filter="url(#blur05)"/><circle cx="178.3" cy="228.9" r="1.5" fill="#dcecff" opacity="0.45" filter="url(#blur2)"/><circle cx="178.3" cy="228.9" r="0.7" fill="#fff" opacity="0.95" filter="url(#blur05)"/><circle cx="188.7" cy="231.9" r="2.2" fill="#dcecff" opacity="0.45" filter="url(#blur2)"/><circle cx="188.7" cy="231.9" r="1.0" fill="#fff" opacity="0.95" filter="url(#blur05)"/><circle cx="173.8" cy="238.9" r="1.8" fill="#dcecff" opacity="0.45" filter="url(#blur2)"/><circle cx="173.8" cy="238.9" r="0.8" fill="#fff" opacity="0.95" filter="url(#blur05)"/><circle cx="158.8" cy="243.8" r="3.6" fill="#dcecff" opacity="0.45" filter="url(#blur2)"/><circle cx="158.8" cy="243.8" r="1.7" fill="#fff" opacity="0.95" filter="url(#blur05)"/><circle cx="127.9" cy="243.8" r="1.8" fill="#dcecff" opacity="0.45" filter="url(#blur2)"/><circle cx="127.9" cy="243.8" r="0.8" fill="#fff" opacity="0.95" filter="url(#blur05)"/><circle cx="131.3" cy="246.8" r="1.8" fill="#dcecff" opacity="0.45" filter="url(#blur2)"/><circle cx="131.3" cy="246.8" r="0.8" fill="#fff" opacity="0.95" filter="url(#blur05)"/><circle cx="110.4" cy="249.3" r="1.8" fill="#dcecff" opacity="0.45" filter="url(#blur2)"/><circle cx="110.4" cy="249.3" r="0.8" fill="#fff" opacity="0.95" filter="url(#blur05)"/><circle cx="76.5" cy="235.9" r="2.0" fill="#dcecff" opacity="0.45" filter="url(#blur2)"/><circle cx="76.5" cy="235.9" r="0.9" fill="#fff" opacity="0.95" filter="url(#blur05)"/><circle cx="115.9" cy="236.9" r="2.0" fill="#dcecff" opacity="0.45" filter="url(#blur2)"/><circle cx="115.9" cy="236.9" r="0.9" fill="#fff" opacity="0.95" filter="url(#blur05)"/><circle cx="106.9" cy="227.9" r="3.3" fill="#dcecff" opacity="0.45" filter="url(#blur2)"/><circle cx="106.9" cy="227.9" r="1.5" fill="#fff" opacity="0.95" filter="url(#blur05)"/><circle cx="142.8" cy="250.8" r="3.3" fill="#dcecff" opacity="0.45" filter="url(#blur2)"/><circle cx="142.8" cy="250.8" r="1.5" fill="#fff" opacity="0.95" filter="url(#blur05)"/><circle cx="66.0" cy="245.3" r="6.2" fill="#e4ecf8" opacity="0.6"/><circle cx="81.9" cy="250.3" r="4" fill="#cfdcf2" opacity="0.45"/></g><path d="M59 253 H111 L117 264 Q118 267 121 267.6 H61 Q59 267 59 265 Z" fill="#272727"/><path d="M111 253 H194 V262 Q194 267.6 190 267.6 H121 Q118 267 117 264 Z" fill="#080808"/><rect x="76" y="261.6" width="100" height="0.9" fill="#666" opacity="0.6"/><circle cx="180" cy="261.5" r="2.6" fill="#0b5a78"/><circle cx="180" cy="261.5" r="1.5" fill="#9fe6f5"/><rect x="205.2" y="163.8" width="51.2" height="125.2" rx="2.2" fill="#555"/><rect x="205.9" y="164.5" width="49.8" height="123.8" rx="1.8" fill="url(#towg)"/><rect x="206.5" y="164.6" width="20" height="1.6" fill="#777" opacity="0.8"/><rect x="208.4" y="167.8" width="44.6" height="77.4" fill="#2a2a2a" stroke="#6c6c6c" stroke-width="0.8"/><rect x="209" y="168.4" width="43.4" height="76.2" fill="url(#towg)" opacity="0.55"/><rect x="210.5" y="171.2" width="40.5" height="10.8" fill="#050505"/><rect x="210.5" y="171.2" width="40.5" height="2.6" fill="#3d3d3d"/><rect x="211.5" y="171.89999999999998" width="16" height="1.3" fill="#8a8a8a" opacity="0.8"/><rect x="244.5" y="172.0" width="5.5" height="1" fill="#5fae4f"/><rect x="210.5" y="179.39999999999998" width="40.5" height="2.6" fill="#2e2e2e"/><rect x="211.5" y="180.0" width="17" height="1.2" fill="#7a7a7a" opacity="0.7"/><rect x="210.5" y="183.4" width="40.5" height="10.8" fill="#050505"/><rect x="210.5" y="183.4" width="40.5" height="2.6" fill="#3d3d3d"/><rect x="211.5" y="184.1" width="16" height="1.3" fill="#8a8a8a" opacity="0.8"/><rect x="244.5" y="184.20000000000002" width="5.5" height="1" fill="#5fae4f"/><rect x="210.5" y="191.6" width="40.5" height="2.6" fill="#2e2e2e"/><rect x="211.5" y="192.20000000000002" width="17" height="1.2" fill="#7a7a7a" opacity="0.7"/><rect x="210.8" y="197" width="39.8" height="9.2" fill="url(#bayg)" stroke="#222" stroke-width="0.6"/><rect x="210.8" y="209.8" width="39.8" height="9.2" fill="url(#bayg)" stroke="#222" stroke-width="0.6"/><rect x="217.5" y="229" width="25.5" height="10.6" fill="#1a1a1a" stroke="#4a4a4a" stroke-width="0.6"/><rect x="219" y="231.4" width="22.5" height="1.7" fill="#050505"/><rect x="219" y="231.2" width="22.5" height="0.7" fill="#8a8a8a" opacity="0.7"/><rect x="219" y="236" width="22.5" height="1.7" fill="#050505"/><rect x="219" y="235.8" width="22.5" height="0.7" fill="#8a8a8a" opacity="0.7"/><path d="M206 245.6 H238 L243 288.3 H206 Z" fill="#3a3a3a" opacity="0.55"/><circle cx="230.2" cy="255.3" r="2.9" fill="#0c3b52"/><circle cx="230.2" cy="255.3" r="2" fill="#1aa0d0"/><circle cx="230.2" cy="255.3" r="1.1" fill="#aef0ff"/></g>
<text transform="translate(1430.6 236) scale(0.95 1)" x="0" y="0" font-family='"Liberation Sans", sans-serif' font-size="35.5" fill="#1a1a1a" font-weight="bold" font-style="italic" textLength="321.05" lengthAdjust="spacing" stroke="#1a1a1a" stroke-width="0.5">IEC61850 Client</text>
<g transform="translate(1297.5 358)"><rect x="0" y="0" width="163" height="83" fill="#0b5cae"/><text y="53.9" font-family='"Liberation Sans", sans-serif' font-size="64" fill="#fff"><tspan x="35.4" font-weight="bold" textLength="18" lengthAdjust="spacingAndGlyphs">I</tspan><tspan x="56" textLength="35" lengthAdjust="spacingAndGlyphs" stroke="#fff" stroke-width="0.7">E</tspan><tspan x="88.5" textLength="44" lengthAdjust="spacingAndGlyphs" stroke="#fff" stroke-width="0.8">C</tspan></text><rect x="39" y="65.7" width="76" height="2" fill="#fff"/><rect x="39" y="71.0" width="76" height="2" fill="#fff"/><rect x="39" y="76.3" width="76" height="2" fill="#fff"/><circle cx="122.6" cy="71.7" r="8.2" fill="#0b5cae"/><circle cx="122.6" cy="71.7" r="6.6" fill="#fff"/></g>
<text x="1301.2" y="472.6" font-family='"Liberation Sans", sans-serif' font-size="30.5" fill="#2a2f7f" font-weight="bold" textLength="132.5" lengthAdjust="spacingAndGlyphs">NetWork</text>
<text x="1461.3" y="560.3" font-family='"DejaVu Sans", "Liberation Sans", sans-serif' font-size="25" fill="#444444" textLength="580.5" lengthAdjust="spacingAndGlyphs" stroke="#444444" stroke-width="0.45">Note that each device on one channel must be</text>
<text x="1461.3" y="605.1" font-family='"DejaVu Sans", "Liberation Sans", sans-serif' font-size="25" fill="#444444" textLength="551.5" lengthAdjust="spacingAndGlyphs" stroke="#444444" stroke-width="0.45">configured for the same serial protocol, and</text>
<text x="1461.3" y="649.9" font-family='"DejaVu Sans", "Liberation Sans", sans-serif' font-size="25" fill="#444444" textLength="474.5" lengthAdjust="spacingAndGlyphs" stroke="#444444" stroke-width="0.45">the same communication parameters.</text>
<text x="1456.5" y="731.4" font-family='"DejaVu Sans", "Liberation Sans", sans-serif' font-size="20.5" fill="#555555" textLength="152.8" lengthAdjust="spacing" stroke="#555555" stroke-width="0.2">Boiler Control</text>
<text x="1652.7" y="733" font-family='"DejaVu Sans", "Liberation Sans", sans-serif' font-size="20.5" fill="#555555" textLength="124.3" lengthAdjust="spacing" stroke="#555555" stroke-width="0.2">Thermostat</text>
<text x="1857" y="733" font-family='"DejaVu Sans", "Liberation Sans", sans-serif' font-size="20.5" fill="#555555" textLength="70.6" lengthAdjust="spacing" stroke="#555555" stroke-width="0.2">Chiller</text>
<path d="M1221.6 909 V919.8 H2058" fill="none" stroke="#1c86c6" stroke-width="7"/>
<rect x="1534.2" y="900" width="14.6" height="17" fill="#1c86c6"/><rect x="1539.4" y="850" width="4.2" height="52" fill="#1c86c6"/>
<rect x="1711.5" y="900" width="14.6" height="17" fill="#1c86c6"/><rect x="1716.7" y="850" width="4.2" height="52" fill="#1c86c6"/>
<rect x="1889.5" y="900" width="14.6" height="17" fill="#1c86c6"/><rect x="1894.7" y="850" width="4.2" height="52" fill="#1c86c6"/>
<rect x="1488.3" y="748.6" width="105.5" height="105.5" fill="#5f7480" filter="url(#blur1)"/><rect x="1486.7" y="747" width="105.5" height="105.5" fill="#20aae0"/><text x="1488.0" y="792.6" font-family='"DejaVu Sans", "Liberation Sans", sans-serif' font-size="22" fill="#06141c" textLength="95.2" lengthAdjust="spacing" stroke="#06141c" stroke-width="0.95">Modbus</text><text x="1504.3" y="824.0" font-family='"DejaVu Sans", "Liberation Sans", sans-serif' font-size="22" fill="#06141c" textLength="62.6" lengthAdjust="spacing" stroke="#06141c" stroke-width="0.95">Slave</text>
<rect x="1663.6" y="748.6" width="105.5" height="105.5" fill="#5f7480" filter="url(#blur1)"/><rect x="1662" y="747" width="105.5" height="105.5" fill="#20aae0"/><text x="1667.4" y="792.6" font-family='"DejaVu Sans", "Liberation Sans", sans-serif' font-size="22" fill="#06141c" textLength="95.2" lengthAdjust="spacing" stroke="#06141c" stroke-width="0.95">Modbus</text><text x="1683.7" y="824.0" font-family='"DejaVu Sans", "Liberation Sans", sans-serif' font-size="22" fill="#06141c" textLength="62.6" lengthAdjust="spacing" stroke="#06141c" stroke-width="0.95">Slave</text>
<rect x="1846.3" y="748.6" width="105.5" height="105.5" fill="#5f7480" filter="url(#blur1)"/><rect x="1844.7" y="747" width="105.5" height="105.5" fill="#20aae0"/><text x="1848.8" y="792.6" font-family='"DejaVu Sans", "Liberation Sans", sans-serif' font-size="22" fill="#06141c" textLength="95.2" lengthAdjust="spacing" stroke="#06141c" stroke-width="0.95">Modbus</text><text x="1865.1" y="824.0" font-family='"DejaVu Sans", "Liberation Sans", sans-serif' font-size="22" fill="#06141c" textLength="62.6" lengthAdjust="spacing" stroke="#06141c" stroke-width="0.95">Slave</text>
<circle cx="2011.4" cy="794.4" r="4.4" fill="#000"/>
<circle cx="2030.2" cy="794.4" r="4.4" fill="#000"/>
<circle cx="2049" cy="794.4" r="4.4" fill="#000"/>
<g transform="translate(1094.6 421.6)"><circle cx="509.9" cy="549.3" r="11" fill="#f7941e"/><circle cx="514.0" cy="535.1" r="7.6" fill="#f7941e"/><circle cx="500.5" cy="539.2" r="7.6" fill="#f7941e"/><circle cx="497.2" cy="553.3" r="7.6" fill="#f7941e"/><circle cx="507.9" cy="562.0" r="7.6" fill="#f7941e"/><circle cx="522.0" cy="558.0" r="7.6" fill="#f7941e"/><circle cx="521.3" cy="544.6" r="7.6" fill="#f7941e"/><circle cx="509.9" cy="549.3" r="7.6" fill="#f7941e"/><circle cx="505.2" cy="527.4" r="7.5" fill="#fbbb25"/><circle cx="527.4" cy="534.1" r="7.5" fill="#fbbb25"/><circle cx="488.4" cy="543.2" r="7.5" fill="#fbbb25"/><circle cx="495.1" cy="565.0" r="7.5" fill="#fbbb25"/><circle cx="518.0" cy="570.4" r="7.5" fill="#fbbb25"/><circle cx="534.1" cy="555.3" r="7.5" fill="#fbbb25"/><line x1="509.9" y1="549.9" x2="506.0" y2="530.7" stroke="#2fa437" stroke-width="1.4"/><polygon points="505.4,528.2 504.2,533.3 508.7,532.4" fill="#2fa437"/><line x1="509.9" y1="549.9" x2="523.6" y2="537.5" stroke="#2fa437" stroke-width="1.4"/><polygon points="525.5,535.8 520.4,537.3 523.5,540.7" fill="#2fa437"/><line x1="509.9" y1="549.9" x2="492.0" y2="544.5" stroke="#2fa437" stroke-width="1.4"/><polygon points="489.5,543.7 493.5,547.3 494.8,542.9" fill="#2fa437"/><line x1="509.9" y1="549.9" x2="498.2" y2="562.6" stroke="#2fa437" stroke-width="1.4"/><polygon points="496.4,564.5 501.4,562.5 498.0,559.4" fill="#2fa437"/><line x1="509.9" y1="549.9" x2="516.2" y2="566.2" stroke="#2fa437" stroke-width="1.4"/><polygon points="517.2,568.6 517.6,563.3 513.3,565.0" fill="#2fa437"/><line x1="509.9" y1="549.9" x2="524.1" y2="553.2" stroke="#2fa437" stroke-width="1.4"/><polygon points="526.6,553.8 522.5,550.4 521.4,554.9" fill="#2fa437"/><circle cx="509.9" cy="549.9" r="2.6" fill="#f7941e" stroke="#2fa437" stroke-width="1.1"/><text x="514.8" y="559.8" font-family='"Liberation Sans", sans-serif' font-size="31" font-weight="bold" font-style="italic" fill="#1b8fd1" stroke="#1b8fd1" stroke-width="0.9" textLength="151.5" lengthAdjust="spacingAndGlyphs">Modbus</text><text x="688.1" y="563.6" font-family='"Liberation Sans", sans-serif' font-size="35" font-weight="bold" font-style="italic" fill="#1b8fd1" stroke="#1b8fd1" stroke-width="0.4" textLength="70.5" lengthAdjust="spacingAndGlyphs">RTU</text></g>
<text x="1899.5" y="986" font-family='"DejaVu Sans", "Liberation Sans", sans-serif' font-size="20" fill="#111" textLength="146.8" lengthAdjust="spacing" stroke="#111" stroke-width="0.35">&lt;Serial Port&gt;</text>
<g transform="translate(1019.9 -21.0)"><path d="M158.8 636 L202.5 636 L202.5 641 L158.8 642.5 Z" fill="#f0902c"/><path d="M187.6 614.6 L202.5 618.2 L202.5 638.8 L187.6 640 Z" fill="#d9690d"/><path d="M150.2 615.8 L187.6 614.6 L187.6 640 L150.2 638.6 Z" fill="url(#orgf)"/><rect x="153.8" y="618.0" width="5.2" height="1.5" fill="#f6a348"/><circle cx="156.4" cy="628.3" r="3.5" fill="#fafafa" stroke="#c9c9c9" stroke-width="0.4"/><line x1="153.5" y1="626.5" x2="159.3" y2="630.0" stroke="#5b6d84" stroke-width="1.3"/><rect x="166.1" y="618.0" width="5.2" height="1.5" fill="#f6a348"/><circle cx="168.7" cy="628.3" r="3.5" fill="#fafafa" stroke="#c9c9c9" stroke-width="0.4"/><line x1="165.8" y1="626.5" x2="171.6" y2="630.0" stroke="#5b6d84" stroke-width="1.3"/><rect x="178.3" y="618.0" width="5.2" height="1.5" fill="#f6a348"/><circle cx="180.9" cy="628.3" r="3.5" fill="#fafafa" stroke="#c9c9c9" stroke-width="0.4"/><line x1="178.0" y1="626.5" x2="183.8" y2="630.0" stroke="#5b6d84" stroke-width="1.3"/><path d="M216.4 642 L216.4 632.6 A11.5 11.5 0 0 1 239.4 632.6 L239.4 642 Z" fill="#2d2d2d"/><circle cx="227.9" cy="632.8" r="5.1" fill="#fff"/><path d="M176.1 903 L227.9 905 L227.9 925.9 L214.5 932.6 L176.1 930.2 Z" fill="#12760f"/><path d="M176.1 903 L214.5 904 L214.5 932.6 L176.1 930.2 Z" fill="#17851a"/><path d="M214.5 904 L227.9 905 L227.9 925.9 L214.5 932.6 Z" fill="#0f6a0d"/><circle cx="182.6" cy="917.4" r="3.6" fill="#fafafa" stroke="#c9c9c9" stroke-width="0.4"/><line x1="179.6" y1="915.6" x2="185.6" y2="919.2" stroke="#333" stroke-width="1.3"/><rect x="180.0" y="926.2" width="5.2" height="1.4" fill="#3fae3a"/><circle cx="195.1" cy="917.9499999999999" r="3.6" fill="#fafafa" stroke="#c9c9c9" stroke-width="0.4"/><line x1="192.1" y1="916.1" x2="198.1" y2="919.7" stroke="#333" stroke-width="1.3"/><rect x="192.5" y="926.7" width="5.2" height="1.4" fill="#3fae3a"/><circle cx="207.5" cy="918.5" r="3.6" fill="#fafafa" stroke="#c9c9c9" stroke-width="0.4"/><line x1="204.5" y1="916.7" x2="210.5" y2="920.3" stroke="#333" stroke-width="1.3"/><rect x="204.9" y="927.2" width="5.2" height="1.4" fill="#3fae3a"/><path d="M275.9 638.4 L280 638.3 L294.9 642.2 L293.4 901.4 L274.9 909.1 Z" fill="#242424"/><path d="M285.5 639.8 L294.9 642.2 L293.4 901.4 L285 905 Z" fill="#1a1a1a"/><path d="M284.8 639.8 L286 640 L285.6 904.8 L284.4 905.2 Z" fill="#3a3a3a"/><path d="M139.1 642.7 L275.9 638.4 L274.9 909.1 L139.1 900.9 Z" fill="#3a3a3a"/><path d="M142.8 646.2 L271.8 642 L271 904.8 L142.8 897.4 Z" fill="#262626"/><path d="M271.8 642 L275.9 638.4 L274.9 909.1 L271 904.8 Z" fill="#333"/><path d="M151.3 650.6 L261.6 647.4 Q266.2 647.3 266.2 651.8 L265.4 893.5 Q265.4 899.6 259.5 899.2 L152.6 892.8 Q147.1 892.4 147.1 887.6 L147.1 654.8 Q147.1 650.8 151.3 650.6 Z" fill="url(#lblg)"/><ellipse cx="280.4" cy="666.2" rx="2.6" ry="6.8" fill="#1a1a1a" stroke="#b8b8b8" stroke-width="0.7"/><line x1="280.4" y1="660.2" x2="280.4" y2="672.2" stroke="#b8b8b8" stroke-width="0.6"/><line x1="278.4" y1="666.2" x2="282.4" y2="666.2" stroke="#b8b8b8" stroke-width="0.6"/><ellipse cx="280.4" cy="883.7" rx="2.6" ry="6.8" fill="#1a1a1a" stroke="#b8b8b8" stroke-width="0.7"/><line x1="280.4" y1="877.7" x2="280.4" y2="889.7" stroke="#b8b8b8" stroke-width="0.6"/><line x1="278.4" y1="883.7" x2="282.4" y2="883.7" stroke="#b8b8b8" stroke-width="0.6"/><circle cx="153.8" cy="658.3" r="3.9" fill="#1a1a1a"/><path d="M153.8 655.4 V658.2 M151.4 658.2 H156.2 M152.1 659.5 H155.5 M152.9 660.7 H154.7" stroke="#ddd" stroke-width="0.7" fill="none"/><text x="162.1" y="658.7" font-family='"Liberation Sans", sans-serif' font-size="5.6" fill="#151515" font-weight="bold" stroke="#151515" stroke-width="0.28">V-</text><text x="175.1" y="658.7" font-family='"Liberation Sans", sans-serif' font-size="5.6" fill="#151515" font-weight="bold" stroke="#151515" stroke-width="0.28">V+</text><text x="158.8" y="665.0" font-family='"Liberation Sans", sans-serif' font-size="5.6" fill="#151515" font-weight="bold" textLength="26" lengthAdjust="spacingAndGlyphs" stroke="#151515" stroke-width="0.28">AC 12-24V</text><text x="158.8" y="671.2" font-family='"Liberation Sans", sans-serif' font-size="5.6" fill="#151515" font-weight="bold" textLength="26" lengthAdjust="spacingAndGlyphs" stroke="#151515" stroke-width="0.28">DC 12-24V</text><text x="235.9" y="657.8" font-family='"Liberation Sans", sans-serif' font-size="5.6" fill="#151515" font-weight="bold" textLength="23.5" lengthAdjust="spacingAndGlyphs" transform="rotate(-1.5 235.9 657.8)" stroke="#151515" stroke-width="0.28">Ethernet</text><text x="159.8" y="687.9" font-family='"Liberation Sans", sans-serif' font-size="10.8" fill="#151515" font-weight="bold" textLength="92" lengthAdjust="spacingAndGlyphs" transform="rotate(-0.6 159.8 687.9)">Protocol Gateway</text><text x="153" y="705.8" font-family='"Liberation Sans", sans-serif' font-size="6.9" fill="#333333" textLength="6.9" lengthAdjust="spacingAndGlyphs" stroke="#333333" stroke-width="0.14">OS</text><text x="184.2" y="705.8" font-family='"Liberation Sans", sans-serif' font-size="6.9" fill="#333333" stroke="#333333" stroke-width="0.14">:</text><text x="187.1" y="706.0" font-family='"Liberation Sans", sans-serif' font-size="6.9" fill="#333333" textLength="12" lengthAdjust="spacingAndGlyphs" stroke="#333333" stroke-width="0.14">Linux</text><text x="153" y="717.3" font-family='"Liberation Sans", sans-serif' font-size="6.9" fill="#333333" textLength="10.1" lengthAdjust="spacingAndGlyphs" stroke="#333333" stroke-width="0.14">CPU</text><text x="184.2" y="717.3" font-family='"Liberation Sans", sans-serif' font-size="6.9" fill="#333333" stroke="#333333" stroke-width="0.14">:</text><text x="187.1" y="717.5" font-family='"Liberation Sans", sans-serif' font-size="6.9" fill="#333333" textLength="19.2" lengthAdjust="spacingAndGlyphs" stroke="#333333" stroke-width="0.14">750MHz</text><text x="153" y="728.9" font-family='"Liberation Sans", sans-serif' font-size="6.9" fill="#333333" textLength="11" lengthAdjust="spacingAndGlyphs" stroke="#333333" stroke-width="0.14">RAM</text><text x="184.2" y="728.9" font-family='"Liberation Sans", sans-serif' font-size="6.9" fill="#333333" stroke="#333333" stroke-width="0.14">:</text><text x="187.1" y="729.1" font-family='"Liberation Sans", sans-serif' font-size="6.9" fill="#333333" textLength="9.9" lengthAdjust="spacingAndGlyphs" stroke="#333333" stroke-width="0.14">64M</text><text x="153" y="740.4" font-family='"Liberation Sans", sans-serif' font-size="6.9" fill="#333333" textLength="13.9" lengthAdjust="spacingAndGlyphs" stroke="#333333" stroke-width="0.14">Power</text><text x="184.2" y="740.4" font-family='"Liberation Sans", sans-serif' font-size="6.9" fill="#333333" stroke="#333333" stroke-width="0.14">:</text><text x="187.1" y="740.6" font-family='"Liberation Sans", sans-serif' font-size="6.9" fill="#333333" textLength="7" lengthAdjust="spacingAndGlyphs" stroke="#333333" stroke-width="0.14">6W</text><text x="153" y="752.0" font-family='"Liberation Sans", sans-serif' font-size="6.9" fill="#333333" textLength="30.7" lengthAdjust="spacingAndGlyphs" stroke="#333333" stroke-width="0.14">Power Supply</text><text x="184.2" y="752.0" font-family='"Liberation Sans", sans-serif' font-size="6.9" fill="#333333" stroke="#333333" stroke-width="0.14">:</text><text x="187.1" y="752.2" font-family='"Liberation Sans", sans-serif' font-size="6.9" fill="#333333" textLength="34.5" lengthAdjust="spacingAndGlyphs" stroke="#333333" stroke-width="0.14">AC/DC 12~24V</text><text x="153" y="763.5" font-family='"Liberation Sans", sans-serif' font-size="6.9" fill="#333333" textLength="23" lengthAdjust="spacingAndGlyphs" stroke="#333333" stroke-width="0.14">Serial Port</text><text x="184.2" y="763.5" font-family='"Liberation Sans", sans-serif' font-size="6.9" fill="#333333" stroke="#333333" stroke-width="0.14">:</text><text x="187.1" y="763.7" font-family='"Liberation Sans", sans-serif' font-size="6.9" fill="#333333" textLength="22" lengthAdjust="spacingAndGlyphs" stroke="#333333" stroke-width="0.14">1x RS485</text><text x="153" y="775.1" font-family='"Liberation Sans", sans-serif' font-size="6.9" fill="#333333" textLength="29.3" lengthAdjust="spacingAndGlyphs" stroke="#333333" stroke-width="0.14">Ethernet Port</text><text x="184.2" y="775.1" font-family='"Liberation Sans", sans-serif' font-size="6.9" fill="#333333" stroke="#333333" stroke-width="0.14">:</text><text x="187.1" y="775.3" font-family='"Liberation Sans", sans-serif' font-size="6.9" fill="#333333" textLength="30.5" lengthAdjust="spacingAndGlyphs" stroke="#333333" stroke-width="0.14">1x 10M/100M</text><text x="153" y="786.6" font-family='"Liberation Sans", sans-serif' font-size="6.9" fill="#333333" textLength="21.3" lengthAdjust="spacingAndGlyphs" stroke="#333333" stroke-width="0.14">Default IP</text><text x="184.2" y="786.6" font-family='"Liberation Sans", sans-serif' font-size="6.9" fill="#333333" stroke="#333333" stroke-width="0.14">:</text><text x="187.1" y="786.8" font-family='"Liberation Sans", sans-serif' font-size="6.9" fill="#333333" textLength="29" lengthAdjust="spacingAndGlyphs" stroke="#333333" stroke-width="0.14">192.168.1.88</text><text x="153" y="798.2" font-family='"Liberation Sans", sans-serif' font-size="6.9" fill="#333333" textLength="24" lengthAdjust="spacingAndGlyphs" stroke="#333333" stroke-width="0.14">Installation</text><text x="184.2" y="798.2" font-family='"Liberation Sans", sans-serif' font-size="6.9" fill="#333333" stroke="#333333" stroke-width="0.14">:</text><text x="187.1" y="798.4" font-family='"Liberation Sans", sans-serif' font-size="6.9" fill="#333333" textLength="35" lengthAdjust="spacingAndGlyphs" stroke="#333333" stroke-width="0.14">35mm DIN-Rail</text><circle cx="239.9" cy="717.8" r="17.6" fill="none" stroke="#151515" stroke-width="1.3"/><path id="btlt1159" d="M229.94 709.44 A13.0 13.0 0 0 1 249.86 709.44" fill="none"/><path id="btlb1159" d="M225.91 709.06 A16.5 16.5 0 1 0 253.89 709.06" fill="none"/><text font-family='"Liberation Sans", sans-serif' font-size="4.2" font-weight="bold" fill="#151515"><textPath href="#btlt1159" startOffset="0" textLength="22.7" lengthAdjust="spacing">&#8226; BACnet &#8226;</textPath></text><text font-family='"Liberation Sans", sans-serif' font-size="4.0" font-weight="bold" fill="#151515"><textPath href="#btlb1159" startOffset="0" textLength="70.3" lengthAdjust="spacing">TESTING LABORATORIES</textPath></text><text y="723.3" font-family='"Liberation Sans", sans-serif' font-size="14.3" font-weight="bold" fill="#151515"><tspan x="228.6">B</tspan><tspan x="236.1" y="726.4" font-size="24.4" textLength="8" lengthAdjust="spacingAndGlyphs">T</tspan><tspan x="243.0" y="723.3">L</tspan></text><path d="M232.3 723.8 V727.0 H247.8 V723.8" fill="none" stroke="#151515" stroke-width="0.8"/><text x="257.4" y="804.1" font-family='"Liberation Sans", sans-serif' font-size="4.7" fill="#151515" font-weight="bold" text-anchor="end" stroke="#151515" stroke-width="0.28">PWR</text><circle cx="261.4" cy="802.6" r="3.3" fill="#e2e46a" opacity="0.4"/><circle cx="261.4" cy="802.6" r="2.2" fill="#d3d62c"/><text x="257.4" y="813.9" font-family='"Liberation Sans", sans-serif' font-size="4.7" fill="#151515" font-weight="bold" text-anchor="end" stroke="#151515" stroke-width="0.28">SYS</text><circle cx="261.4" cy="812.3" r="3.3" fill="#e2e46a" opacity="0.4"/><circle cx="261.4" cy="812.3" r="2.2" fill="#d3d62c"/><text x="257.4" y="833.5" font-family='"Liberation Sans", sans-serif' font-size="4.7" fill="#151515" font-weight="bold" text-anchor="end" stroke="#151515" stroke-width="0.28">TX1</text><circle cx="261.4" cy="831.8" r="3.3" fill="#e2e46a" opacity="0.4"/><circle cx="261.4" cy="831.8" r="2.2" fill="#d3d62c"/><text x="257.4" y="843.1" font-family='"Liberation Sans", sans-serif' font-size="4.7" fill="#151515" font-weight="bold" text-anchor="end" stroke="#151515" stroke-width="0.28">RX1</text><circle cx="261.4" cy="841.8" r="3.3" fill="#e2e46a" opacity="0.4"/><circle cx="261.4" cy="841.8" r="2.2" fill="#d3d62c"/><path d="M153 825.6 V820 Q153 818 155.5 818 V825.6 Z M156.6 825.6 V817.6 L160.4 816.8 V825.6 Z M161 825.6 V817.2 L164.6 818.2 V825.6 Z" fill="#333333"/><text x="167" y="825.7" font-family='"Liberation Sans", sans-serif' font-size="5.2" fill="#333333" textLength="15.8" lengthAdjust="spacingAndGlyphs" stroke="#333333" stroke-width="0.14">Building</text><path d="M191.4 826.4 H200 L198.8 819.6 L195.6 821.4 L193.2 820.2 Z M193.6 819.6 Q192.6 816 195.6 815.6 Q198.8 815.4 198.6 817.4 Q197.8 818.6 195.4 817.8" fill="none" stroke="#333333" stroke-width="0.7"/><text x="203" y="827.4" font-family='"Liberation Sans", sans-serif' font-size="5.2" fill="#333333" textLength="14.8" lengthAdjust="spacingAndGlyphs" stroke="#333333" stroke-width="0.14">Factory</text><path d="M153 838.2 H161 V841.8 H153 Z M153 841.8 L157 840 L161 841.8 M154 846.6 V843.2 H160 V846.6 M152.6 846.6 H161.4 M157 843.2 V846.6" fill="none" stroke="#333333" stroke-width="0.7"/><text x="166.5" y="846.8" font-family='"Liberation Sans", sans-serif' font-size="5.2" fill="#333333" textLength="16.3" lengthAdjust="spacingAndGlyphs" stroke="#333333" stroke-width="0.14">Stadium</text><path d="M191.6 847.4 H199.6 M192.4 847.4 V841.4 H198.6 V847.4 M193.4 841.4 V838.4 H197.6 V841.4 M195.5 836 V837.4 M194.8 836.7 H196.2" fill="none" stroke="#333333" stroke-width="0.7"/><text x="202.2" y="848.0" font-family='"Liberation Sans", sans-serif' font-size="5.2" fill="#333333" textLength="16.6" lengthAdjust="spacingAndGlyphs" stroke="#333333" stroke-width="0.14">Hospital</text><path d="M152.5 867.6 V857 L158.8 856.4 V867.6 Z M158.8 860 L163 860.6 V867.8 H158.8" fill="none" stroke="#333333" stroke-width="0.7"/><rect x="153.6" y="858.2" width="0.9" height="0.9" fill="#333333"/><rect x="155.4" y="858.2" width="0.9" height="0.9" fill="#333333"/><rect x="157.0" y="858.2" width="0.9" height="0.9" fill="#333333"/><rect x="153.6" y="860.4" width="0.9" height="0.9" fill="#333333"/><rect x="155.4" y="860.4" width="0.9" height="0.9" fill="#333333"/><rect x="157.0" y="860.4" width="0.9" height="0.9" fill="#333333"/><rect x="153.6" y="862.6" width="0.9" height="0.9" fill="#333333"/><rect x="155.4" y="862.6" width="0.9" height="0.9" fill="#333333"/><rect x="157.0" y="862.6" width="0.9" height="0.9" fill="#333333"/><text x="167" y="868.0" font-family='"Liberation Sans", sans-serif' font-size="5.2" fill="#333333" textLength="10.8" lengthAdjust="spacingAndGlyphs" stroke="#333333" stroke-width="0.14">Hotel</text><path d="M191.4 868.2 L192.2 859.6 L199 860 L200 868.8 Z M193.8 861.2 Q195.6 864.4 197.4 861.4" fill="none" stroke="#333333" stroke-width="0.7"/><text x="203" y="868.8" font-family='"Liberation Sans", sans-serif' font-size="5.2" fill="#333333" textLength="14.1" lengthAdjust="spacingAndGlyphs" stroke="#333333" stroke-width="0.14">Market</text><text x="150" y="891.3" font-family='"Liberation Sans", sans-serif' font-size="5.7" fill="#151515" font-weight="bold" textLength="14.2" lengthAdjust="spacingAndGlyphs" transform="rotate(1.5 150 891.3)" stroke="#151515" stroke-width="0.28">Reset</text><text x="184.9" y="881.1" font-family='"Liberation Sans", sans-serif' font-size="5.8" fill="#151515" font-weight="bold" textLength="15.1" lengthAdjust="spacingAndGlyphs" transform="rotate(1.5 184.9 881.1)" stroke="#151515" stroke-width="0.28">COM1</text><text x="186.1" y="887.3" font-family='"Liberation Sans", sans-serif' font-size="4.5" fill="#151515" font-weight="bold" textLength="13.8" lengthAdjust="spacingAndGlyphs" transform="rotate(1.5 186.1 887.3)" stroke="#151515" stroke-width="0.28">RS485</text><text x="176" y="892.7" font-family='"Liberation Sans", sans-serif' font-size="5.7" fill="#151515" font-weight="bold" transform="rotate(1.5 176 892.7)" stroke="#151515" stroke-width="0.28">A+</text><text x="190" y="893.3" font-family='"Liberation Sans", sans-serif' font-size="5.7" fill="#151515" font-weight="bold" transform="rotate(1.5 190 893.3)" stroke="#151515" stroke-width="0.28">B-</text><text x="200" y="894.0" font-family='"Liberation Sans", sans-serif' font-size="5.7" fill="#151515" font-weight="bold" textLength="11.8" lengthAdjust="spacingAndGlyphs" transform="rotate(1.5 200 894.0)" stroke="#151515" stroke-width="0.28">GND</text><path d="M184 878.4 H178.3 V888 M200.6 879.3 H206.3 V889" fill="none" stroke="#151515" stroke-width="0.6"/></g></g></svg>
</body>
</html>
